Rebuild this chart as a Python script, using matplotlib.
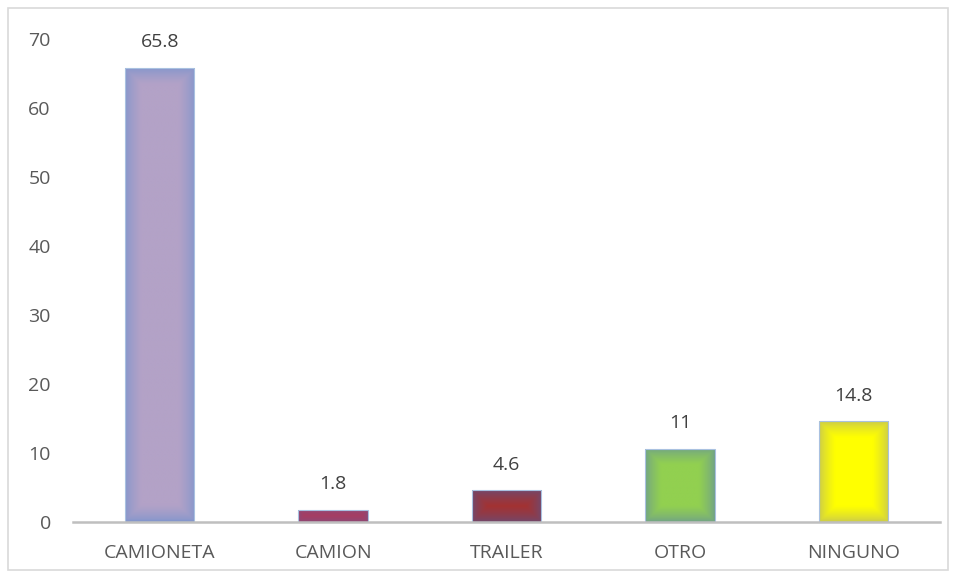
import matplotlib
matplotlib.use("Agg")
import matplotlib.pyplot as plt
from matplotlib.patches import Rectangle
from matplotlib.colors import to_rgb
import numpy as np

categories = ["CAMIONETA", "CAMION", "TRAILER", "OTRO", "NINGUNO"]
values = [65.8, 1.8, 4.6, 10.6, 14.6]
labels = ["65.8", "1.8", "4.6", "11", "14.8"]

# colores: centro y borde del degradado
center_colors = ["#B3A2C7", "#C0304F", "#A33232", "#92D050", "#FFFF00"]
edge_colors = ["#8496CC", "#8A4A78", "#6E4A70", "#6FA08A", "#C8C850"]

plt.rcParams["font.family"] = ["Open Sans", "DejaVu Sans"]

fig = plt.figure(figsize=(9.56, 5.77), dpi=100)
ax = fig.add_axes([73 / 956, 55 / 577, 867 / 956, (522 - 39) / 577])

x = np.arange(len(categories))
bars = ax.bar(x, values, width=0.4, color="none", edgecolor="#A9C1E0", linewidth=0.8, zorder=3)

# degradado tipo "caja" dentro de cada barra
n = 200
u = np.linspace(-1, 1, n)
for bar, c0, c1 in zip(bars, center_colors, edge_colors):
    bx, by = bar.get_x(), bar.get_y()
    bw, bh = bar.get_width(), bar.get_height()
    # tamaño aproximado en pixeles
    wpx = bw * 173.4
    hpx = bh * 6.9
    gx = np.clip((1 - np.abs(u)) * wpx / 2 / 16, 0, 1)
    gy = np.clip((1 - np.abs(u)) * hpx / 2 / 16, 0, 1)
    t = np.minimum.outer(gy, gx) ** 0.7
    a, b = np.array(to_rgb(c0)), np.array(to_rgb(c1))
    img = b[None, None, :] * (1 - t[..., None]) + a[None, None, :] * t[..., None]
    im = ax.imshow(img, extent=(bx, bx + bw, by, by + bh), origin="lower",
                   aspect="auto", zorder=2, interpolation="bilinear")
    clip = Rectangle((bx, by), bw, bh, transform=ax.transData)
    im.set_clip_path(clip)

for bar, lab in zip(bars, labels):
    ax.annotate(lab, (bar.get_x() + bar.get_width() / 2, bar.get_height()),
                xytext=(0, 12), textcoords="offset points", ha="center", va="bottom",
                fontsize=14, color="#404040")

ax.set_xlim(-0.5, len(categories) - 0.5)
ax.set_ylim(0, 70)
ax.set_yticks(range(0, 71, 10))
ax.set_xticks(x)
ax.set_xticklabels(categories)
ax.tick_params(axis="both", length=0, labelsize=14, colors="#595959")
ax.tick_params(axis="y", pad=16)
ax.tick_params(axis="x", pad=16)
for s in ["top", "right", "left"]:
    ax.spines[s].set_visible(False)
ax.spines["bottom"].set_color("#BFBFBF")
ax.spines["bottom"].set_linewidth(1.8)
ax.spines["bottom"].set_zorder(4)

# borde exterior del grafico
fig.patches.append(Rectangle((8 / 956, 7 / 577), 940 / 956, 562 / 577,
                             transform=fig.transFigure, fill=False,
                             edgecolor="#D9D9D9", linewidth=1.2))

fig.savefig("out.png", dpi=100)
